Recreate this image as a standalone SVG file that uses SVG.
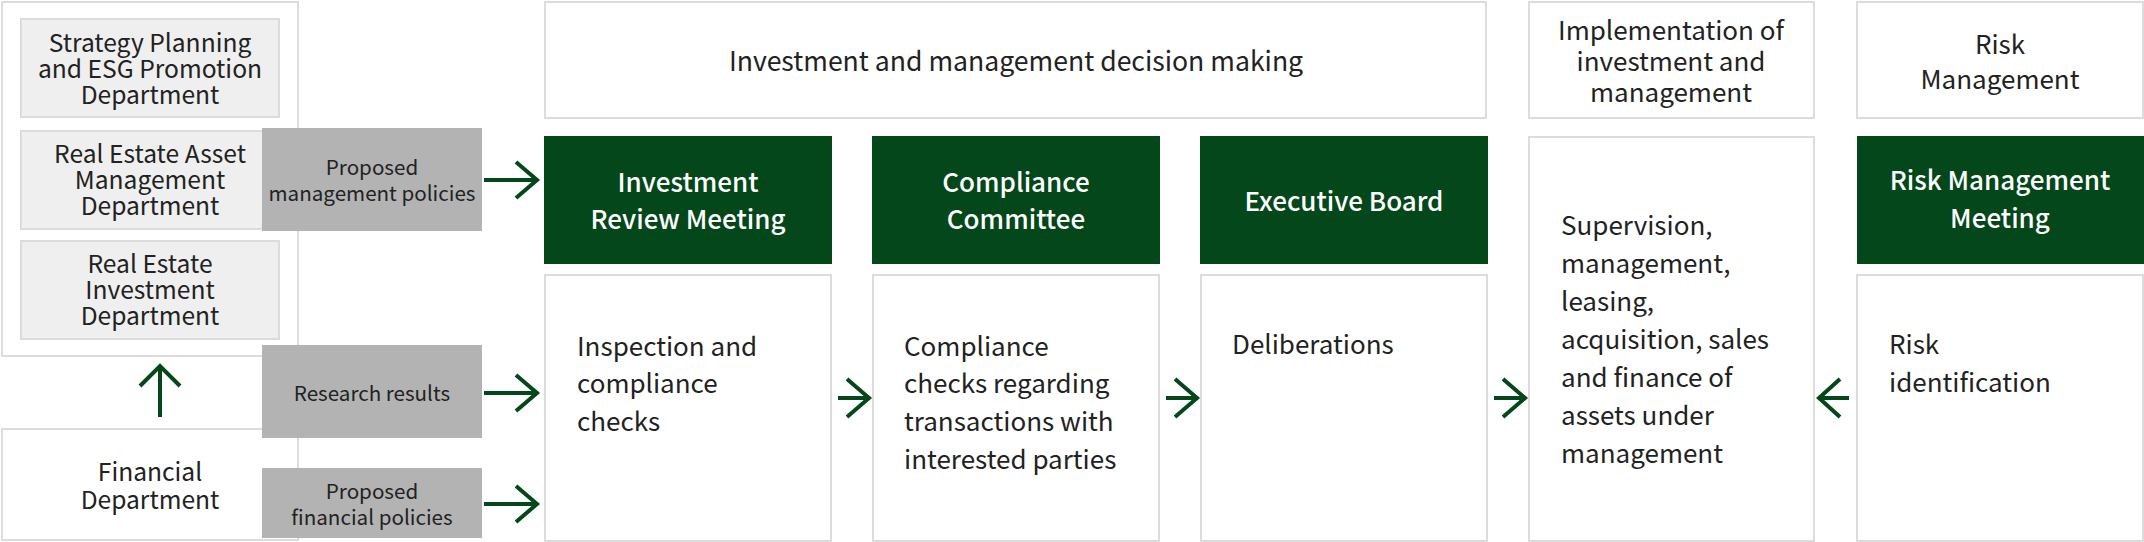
<svg xmlns="http://www.w3.org/2000/svg" width="2144" height="542" viewBox="0 0 2144 542">
<defs>
<style>
text{font-family:"Noto Sans CJK JP","Source Sans Pro","Noto Sans",sans-serif;fill:#222}
.box{fill:#fff;stroke:#dcdcdc;stroke-width:2}
.dept{fill:#efefef;stroke:#dcdcdc;stroke-width:2}
.lab{fill:#b3b3b3}
.grn{fill:#03471b}
.t24{font-size:24.6px}
.t20{font-size:20.6px}
.t26{font-size:26px}
.h{font-size:26.6px}
.b{font-size:26px;font-weight:500;fill:#fff}
.c{text-anchor:middle}
.arr{fill:none;stroke:#03471b;stroke-width:4;stroke-linejoin:miter}
</style>
</defs>
<g id="left-container"><rect class="box" x="2" y="2" width="296" height="354"/></g>
<g id="financial-department"><rect class="box" x="2" y="429" width="296" height="111"/>
<text class="t24 c" x="150"><tspan x="150" y="481">Financial</tspan><tspan x="150" y="509">Department</tspan></text></g>
<g id="strategy-planning"><rect class="dept" x="21" y="19" width="258" height="98"/>
<text class="t24 c"><tspan x="150" y="52">Strategy Planning</tspan><tspan x="150" y="78">and ESG Promotion</tspan><tspan x="150" y="104">Department</tspan></text></g>
<g id="asset-management"><rect class="dept" x="21" y="131" width="258" height="98"/>
<text class="t24 c"><tspan x="150" y="163">Real Estate Asset</tspan><tspan x="150" y="189">Management</tspan><tspan x="150" y="215">Department</tspan></text></g>
<g id="investment-department"><rect class="dept" x="21" y="241" width="258" height="98"/>
<text class="t24 c"><tspan x="150" y="273">Real Estate</tspan><tspan x="150" y="299">Investment</tspan><tspan x="150" y="325">Department</tspan></text></g>
<g id="label-management"><rect class="lab" x="262" y="128" width="220" height="103"/>
<text class="t20 c"><tspan x="372" y="175">Proposed</tspan><tspan x="372" y="201">management policies</tspan></text></g>
<g id="label-research"><rect class="lab" x="262" y="345" width="220" height="93"/>
<text class="t20 c" x="372" y="401">Research results</text></g>
<g id="label-financial"><rect class="lab" x="262" y="468" width="220" height="70"/>
<text class="t20 c"><tspan x="372" y="499">Proposed</tspan><tspan x="372" y="525">financial policies</tspan></text></g>
<g id="header-decision"><rect class="box" x="545" y="2" width="941" height="116"/>
<text class="h c" x="1016" y="71">Investment and management decision making</text></g>
<g id="header-implementation"><rect class="box" x="1529" y="2" width="285" height="116"/>
<text class="t26 c"><tspan x="1671" y="40">Implementation of</tspan><tspan x="1671" y="71">investment and</tspan><tspan x="1671" y="102">management</tspan></text></g>
<g id="header-risk"><rect class="box" x="1857" y="2" width="286" height="116"/>
<text class="t26 c"><tspan x="2000" y="54">Risk</tspan><tspan x="2000" y="89">Management</tspan></text></g>
<g id="investment-review"><rect class="grn" x="544" y="136" width="288" height="128"/>
<text class="b c"><tspan x="688" y="192">Investment</tspan><tspan x="688" y="229">Review Meeting</tspan></text>
<rect class="box" x="545" y="275" width="286" height="266"/>
<text class="t26"><tspan x="577" y="356">Inspection and</tspan><tspan x="577" y="393">compliance</tspan><tspan x="577" y="431">checks</tspan></text></g>
<g id="compliance-committee"><rect class="grn" x="872" y="136" width="288" height="128"/>
<text class="b c"><tspan x="1016" y="192">Compliance</tspan><tspan x="1016" y="229">Committee</tspan></text>
<rect class="box" x="873" y="275" width="286" height="266"/>
<text class="t26"><tspan x="904" y="356">Compliance</tspan><tspan x="904" y="393">checks regarding</tspan><tspan x="904" y="431">transactions with</tspan><tspan x="904" y="469">interested parties</tspan></text></g>
<g id="executive-board"><rect class="grn" x="1200" y="136" width="288" height="128"/>
<text class="b c" x="1344" y="211">Executive Board</text>
<rect class="box" x="1201" y="275" width="286" height="266"/>
<text class="t26" x="1232" y="354">Deliberations</text></g>
<g id="implementation"><rect class="box" x="1529" y="137" width="285" height="404"/>
<text class="t26"><tspan x="1561" y="235">Supervision,</tspan><tspan x="1561" y="273">management,</tspan><tspan x="1561" y="311">leasing,</tspan><tspan x="1561" y="349">acquisition, sales</tspan><tspan x="1561" y="387">and finance of</tspan><tspan x="1561" y="425">assets under</tspan><tspan x="1561" y="463">management</tspan></text></g>
<g id="risk-management-meeting"><rect class="grn" x="1857" y="136" width="287" height="128"/>
<text class="b c"><tspan x="2000" y="190">Risk Management</tspan><tspan x="2000" y="228">Meeting</tspan></text>
<rect class="box" x="1857" y="275" width="286" height="266"/>
<text class="t26"><tspan x="1889" y="354">Risk</tspan><tspan x="1889" y="392">identification</tspan></text></g>
<g id="connectors">
<path class="arr" d="M160 417V366M140 386L160 366L180 386"/>
<path class="arr" d="M484 180H536M516 162L537 180L516 198"/>
<path class="arr" d="M484 393H536M516 375L537 393L516 411"/>
<path class="arr" d="M484 504H536M516 486L537 504L516 522"/>
<path class="arr" d="M838 398H868M847 379L869 398L847 417"/>
<path class="arr" d="M1166 398H1196M1175 379L1197 398L1175 417"/>
<path class="arr" d="M1494 398H1524M1503 379L1525 398L1503 417"/>
<path class="arr" d="M1849 398H1821M1840 379L1819 398L1840 417"/>
</g>
</svg>
